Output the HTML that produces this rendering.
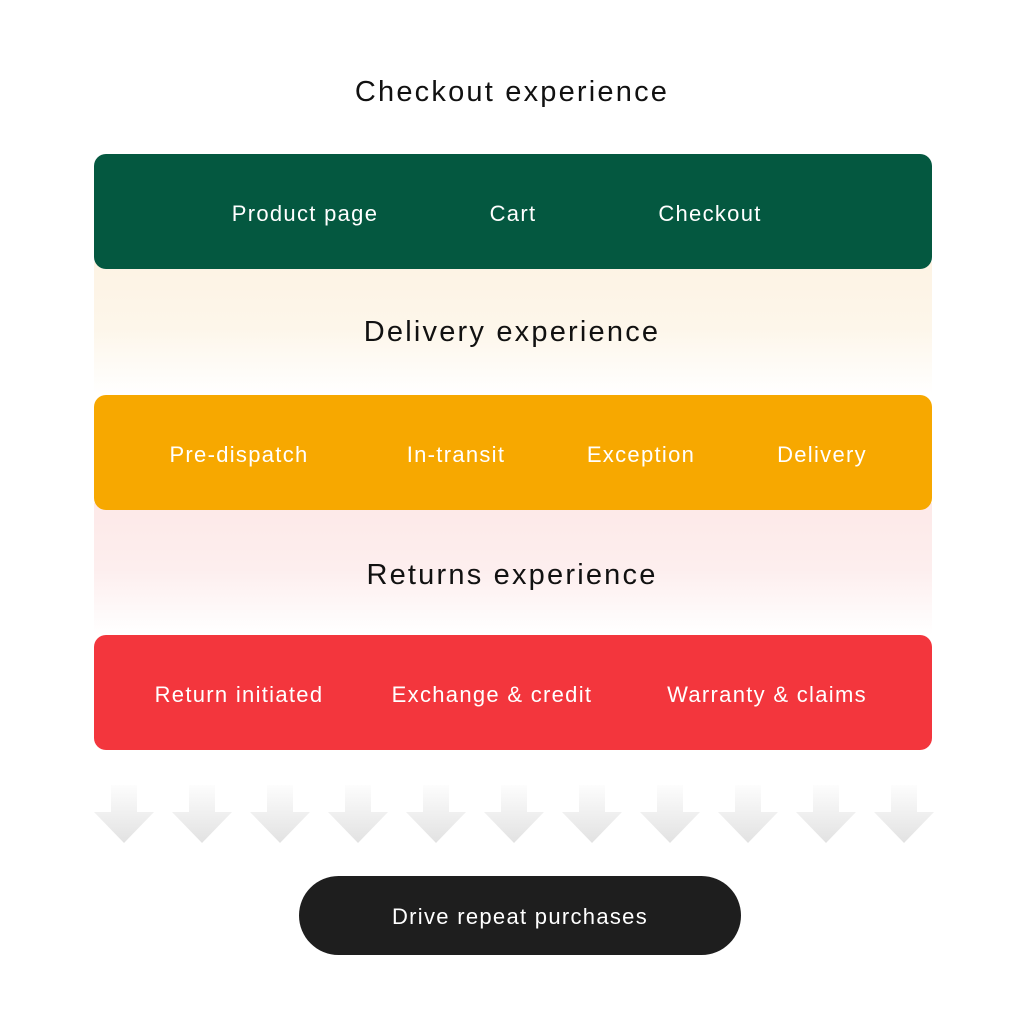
<!DOCTYPE html>
<html><head><style>
body{margin:0;width:1024px;height:1024px;background:#fff;position:relative;font-family:"Liberation Sans",sans-serif;overflow:hidden}
.t{position:absolute;left:0;width:1024px;text-align:center;color:#111;font-size:29px;letter-spacing:2.2px}
.box{position:absolute;left:94px;width:838px;height:115px;border-radius:12px}
.l{position:absolute;color:#fff;font-size:22px;letter-spacing:1.3px;transform:translateX(-50%);white-space:nowrap}
.g{position:absolute;left:94px;width:838px}
</style></head><body>
<div class="t" style="top:76px">Checkout experience</div>
<div class="g" style="top:262px;height:133px;background:linear-gradient(#fdf3e4,#fdf6ea 50%,#fff)"></div>
<div class="g" style="top:503px;height:132px;background:linear-gradient(#fde9e8,#fdeeee 50%,#fff)"></div>
<div class="box" style="top:154px;background:#045840"></div>
<div class="l" style="left:305px;top:201px">Product page</div>
<div class="l" style="left:513px;top:201px">Cart</div>
<div class="l" style="left:710px;top:201px">Checkout</div>
<div class="t" style="top:316px">Delivery experience</div>
<div class="box" style="top:395px;background:#f7a800"></div>
<div class="l" style="left:239px;top:442px">Pre-dispatch</div>
<div class="l" style="left:456px;top:442px">In-transit</div>
<div class="l" style="left:641px;top:442px">Exception</div>
<div class="l" style="left:822px;top:442px">Delivery</div>
<div class="t" style="top:559px">Returns experience</div>
<div class="box" style="top:635px;background:#f3363d"></div>
<div class="l" style="left:239px;top:682px">Return initiated</div>
<div class="l" style="left:492px;top:682px">Exchange &amp; credit</div>
<div class="l" style="left:767px;top:682px">Warranty &amp; claims</div>
<svg style="position:absolute;left:0;top:0" width="1024" height="1024">
<defs><linearGradient id="a" x1="0" y1="0" x2="0" y2="1"><stop offset="0" stop-color="#fdfdfd"/><stop offset="1" stop-color="#e2e2e2"/></linearGradient></defs>
<g fill="url(#a)">
<path d="M111 785h26v27h17l-30 31l-30-31h17z" id="p"/>
<use href="#p" x="78"/><use href="#p" x="156"/><use href="#p" x="234"/><use href="#p" x="312"/><use href="#p" x="390"/><use href="#p" x="468"/><use href="#p" x="546"/><use href="#p" x="624"/><use href="#p" x="702"/><use href="#p" x="780"/>
</g></svg>
<div style="position:absolute;left:299px;top:876px;width:442px;height:79px;border-radius:40px;background:#1e1e1e;color:#fff;font-size:22px;letter-spacing:1.3px;text-align:center;line-height:81px">Drive repeat purchases</div>
</body></html>
